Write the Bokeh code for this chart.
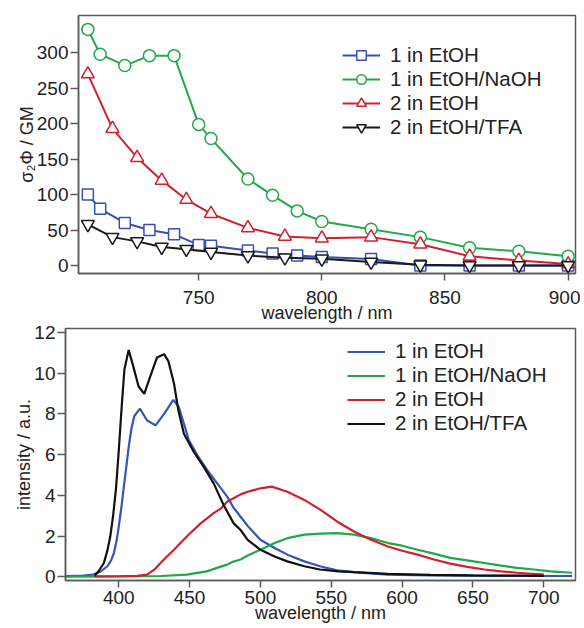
from bokeh.plotting import figure
from bokeh.layouts import column
from bokeh.models import Range1d, FixedTicker, Legend, LegendItem
from bokeh.embed import file_html
from bokeh.resources import INLINE

# ---------------- data: two-photon action cross sections ----------------
tpa_wl_1 = [705, 710, 720, 730, 740, 750, 755, 770, 780, 790, 800, 820, 840, 860, 880, 900]
tpa_1_etoh = [100, 80, 60, 50, 44, 29, 28, 21, 17, 14, 12, 9, 0, 0, 0, 0]
tpa_1_naoh = [333, 298, 282, 296, 296, 199, 179, 122, 99, 77, 62, 51, 40, 25, 20, 13]
tpa_wl_2 = [705, 715, 725, 735, 745, 755, 770, 785, 800, 820, 840, 860, 880, 900]
tpa_2_etoh = [270, 193, 152, 120, 93, 73, 53, 41, 38.5, 40, 30, 13, 7, 2]
tpa_2_tfa = [58, 40, 34, 26, 23, 19, 14, 11, 9.5, 5, 1, 0, 0, 0]

# ---------------- data: emission spectra ----------------
em_wl_1_etoh = [362, 375, 382, 387, 392, 394.5, 396.6, 398.5, 400, 402, 403.6, 405.5, 407, 409, 411,
                415, 420, 426, 432, 438.5, 442.5, 446, 449.5, 455.5, 462.5, 469.5, 476.5, 481, 486,
                491, 500, 510, 519, 531, 542, 554, 566, 590, 620, 660, 720]
em_1_etoh = [0.03, 0.06, 0.11, 0.25, 0.52, 0.8, 1.17, 1.8, 2.47, 3.5, 4.43, 5.5, 6.38, 7.3, 7.9,
             8.26, 7.68, 7.44, 8.01, 8.69, 8.33, 7.52, 6.71, 5.97, 5.24, 4.59, 3.94, 3.4, 2.95,
             2.5, 1.82, 1.42, 1.09, 0.76, 0.52, 0.32, 0.23, 0.11, 0.07, 0.05, 0.04]

em_wl_1_naoh = [362, 400, 430, 448, 462, 472, 476.5, 481, 486, 491, 500, 510, 519, 531, 542.5, 554,
                566, 578, 590, 600, 611, 622.5, 634, 646, 658, 670, 681, 693, 705, 720]
em_1_naoh = [0.01, 0.02, 0.04, 0.11, 0.27, 0.5, 0.6, 0.75, 0.85, 1.05, 1.33, 1.66, 1.9, 2.07, 2.12, 2.15,
             2.07, 1.9, 1.66, 1.53, 1.33, 1.14, 0.93, 0.81, 0.68, 0.55, 0.44, 0.36, 0.27, 0.2]

em_wl_2_etoh = [383, 400, 413, 420, 425, 429.5, 434, 439, 448, 458, 467, 472, 476.5, 481, 486, 491,
                500, 508, 519, 531, 542.5, 554, 566, 578, 590, 600, 611, 622.5, 634, 646, 658, 670, 681, 700]
em_2_etoh = [0.02, 0.03, 0.05, 0.11, 0.35, 0.68, 1.0, 1.33, 1.98, 2.64, 3.13, 3.35, 3.69, 3.86, 4.05, 4.18,
             4.35, 4.43, 4.18, 3.78, 3.29, 2.72, 2.23, 1.82, 1.49, 1.28, 1.09, 0.85, 0.65, 0.49, 0.36, 0.27, 0.2, 0.11]

em_wl_2_tfa = [383, 386, 389.5, 392, 394, 396, 398, 400, 402, 404, 407, 410, 414, 418, 422, 427, 432,
               435, 439, 442, 446, 453, 460, 467, 474, 481, 486, 491, 500, 510, 519, 531, 542, 555, 566,
               590, 620, 650, 680, 700]
em_2_tfa = [0.05, 0.3, 0.68, 1.3, 1.98, 3.0, 4.3, 6.2, 8.3, 10.2, 11.14, 10.4, 9.35, 8.99, 9.8, 10.78, 10.94,
            10.6, 9.5, 8.2, 7.03, 6.14, 5.4, 4.59, 3.53, 2.64, 2.3, 1.82, 1.33, 1.0, 0.76, 0.52, 0.36, 0.27, 0.23,
            0.15, 0.1, 0.07, 0.06, 0.05]

series_labels = ["1 in EtOH", "1 in EtOH/NaOH", "2 in EtOH", "2 in EtOH/TFA"]
top_xticks = [750, 800, 850, 900]
top_yticks = [0, 50, 100, 150, 200, 250, 300]
bot_xticks = [400, 450, 500, 550, 600, 650, 700]
bot_yticks = [0, 2, 4, 6, 8, 10, 12]

BLUE_T, GREEN_T, RED_T, BLACK_T = "#3a4fb3", "#25a84a", "#d0222e", "#1a1a1a"
BLUE_B, GREEN_B, RED_B, BLACK_B = "#3556b3", "#1ea84a", "#d0202c", "#111111"
FONT = "Liberation Sans"
FRAME = "#5a5a5a"


def style(p, xlabel, ylabel, xticks, yticks, xt):
    p.outline_line_color = FRAME
    p.outline_line_width = 1.5
    p.xgrid.visible = False
    p.ygrid.visible = False
    for ax in (p.xaxis[0], p.yaxis[0]):
        ax.axis_line_color = FRAME
        ax.axis_line_width = 1.5
        ax.major_tick_line_color = FRAME
        ax.major_tick_line_width = 1.5
        ax.minor_tick_line_color = None
        ax.major_tick_in = 0
        ax.major_label_text_font = FONT
        ax.major_label_text_font_size = "19px"
        ax.major_label_text_color = "#222222"
        ax.axis_label_text_font = FONT
        ax.axis_label_text_font_size = "18px"
        ax.axis_label_text_font_style = "normal"
        ax.axis_label_text_color = "#222222"
    p.xaxis[0].axis_label = xlabel
    p.yaxis[0].axis_label = ylabel
    p.xaxis[0].ticker = FixedTicker(ticks=xticks)
    p.yaxis[0].ticker = FixedTicker(ticks=yticks)
    p.xaxis[0].major_tick_out = xt[0]
    p.xaxis[0].major_label_standoff = xt[1]
    p.xaxis[0].axis_label_standoff = xt[2]
    p.yaxis[0].major_tick_out = 8
    p.yaxis[0].major_label_standoff = 2
    p.yaxis[0].axis_label_standoff = -3


# ---------------- top figure ----------------
top = figure(width=580, height=330, output_backend="svg", toolbar_location=None,
             x_range=Range1d(701.2, 903), y_range=Range1d(-11.3, 352.6),
             min_border_left=78, min_border_right=5, min_border_top=15, min_border_bottom=57)
style(top, "wavelength / nm", "σ₂Φ / GM", top_xticks, top_yticks, (7, 10, -4))

top_series = [
    (tpa_wl_1, tpa_1_etoh, BLUE_T, "square", 11),
    (tpa_wl_1, tpa_1_naoh, GREEN_T, "circle", 12),
    (tpa_wl_2, tpa_2_etoh, RED_T, "triangle", 13),
    (tpa_wl_2, tpa_2_tfa, BLACK_T, "inverted_triangle", 13),
]
top_items = []
for (xs, ys, col, mk, sz), lab in zip(top_series, series_labels):
    ln = top.line(xs, ys, line_color=col, line_width=2)
    sc = top.scatter(xs, ys, marker=mk, size=sz, line_color=col, line_width=1.5, fill_color="white")
    top_items.append(LegendItem(label=lab, renderers=[ln, sc]))

top_leg = Legend(items=top_items, location=(264, 134), padding=0, margin=0, spacing=0,
                 glyph_width=38, glyph_height=24, label_height=24, label_standoff=10,
                 label_text_font=FONT, label_text_font_size="20.5px", label_text_color="#222222",
                 border_line_alpha=0, background_fill_alpha=0)
top.add_layout(top_leg)

# ---------------- bottom figure ----------------
bot = figure(width=580, height=308, output_backend="svg", toolbar_location=None,
             x_range=Range1d(362.4, 722.4), y_range=Range1d(-0.18, 12.2),
             min_border_left=65, min_border_right=5, min_border_top=8, min_border_bottom=48)
style(bot, "wavelength / nm", "intensity / a.u.", bot_xticks, bot_yticks, (7, 3, -4))
bot.border_fill_alpha = 0

bot_series = [
    (em_wl_1_etoh, em_1_etoh, BLUE_B),
    (em_wl_1_naoh, em_1_naoh, GREEN_B),
    (em_wl_2_etoh, em_2_etoh, RED_B),
    (em_wl_2_tfa, em_2_tfa, BLACK_B),
]
bot_items = []
for (xs, ys, col), lab in zip(bot_series, series_labels):
    ln = bot.line(xs, ys, line_color=col, line_width=2.2)
    bot_items.append(LegendItem(label=lab, renderers=[ln]))

bot_leg = Legend(items=bot_items, location=(282, 145), padding=0, margin=0, spacing=0,
                 glyph_width=38, glyph_height=23, label_height=23, label_standoff=10,
                 label_text_font=FONT, label_text_font_size="20.5px", label_text_color="#222222",
                 border_line_alpha=0, background_fill_alpha=0)
bot.add_layout(bot_leg)

# wrap each figure separately so that their frames are not aligned to each other
top_box = column(top, spacing=0)
bot_box = column(bot, spacing=0)
bot_box.margin = (-10, 0, 0, 0)
p = column(top_box, bot_box, spacing=0)
open("out.html", "w").write(file_html(p, INLINE))
